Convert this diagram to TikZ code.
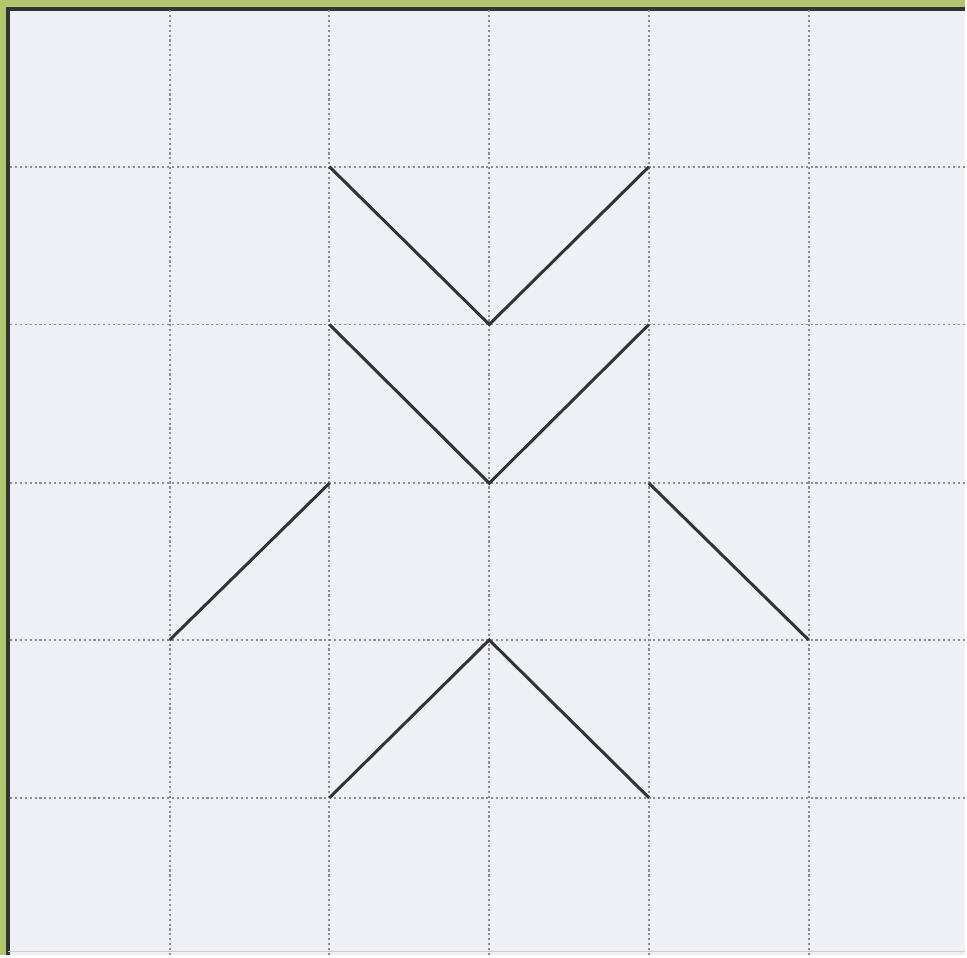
\documentclass[tikz,border=0pt]{standalone}
\usepackage{tikz}
\usetikzlibrary{positioning}
\definecolor{framegreen}{RGB}{178,198,112}
\definecolor{panelfill}{RGB}{238,240,246}
\definecolor{gridgray}{RGB}{140,140,145}
\definecolor{linedark}{RGB}{50,50,55}

\begin{document}
\begin{tikzpicture}[
  x=0.02cm, y=-0.02cm,
  panel/.style={fill=panelfill, draw=none},
  gridline/.style={draw=gridgray, line width=1.1pt, dash pattern=on 1.2pt off 1.6pt},
  figline/.style={draw=linedark, line width=1.7pt, line join=miter}
]

% Frame and panel
\fill[framegreen] (0,0) rectangle (967,957);
\fill[panel] (8,9) rectangle (967,957);
\draw[linedark, line width=1.8pt] (8,957) -- (8,9) -- (967,9);
\draw[gray!40, line width=0.8pt] (8,953) -- (967,953);
\useasboundingbox (0,0) rectangle (967,957);

% Grid
\foreach \gx in {170,330,490,650,810}
  \draw[gridline] (\gx,10) -- (\gx,957);
\foreach \gy in {167,325,484,641,799}
  \draw[gridline] (10,\gy) -- (967,\gy);

% Grid points
\coordinate (a1) at (330,167);
\coordinate (a2) at (490,325);
\coordinate (a3) at (650,167);
\coordinate (b1) at (330,325);
\coordinate (b2) at (490,484);
\coordinate (b3) at (650,325);
\coordinate (c1) at (330,484);
\coordinate (c2) at (170,641);
\coordinate (d1) at (650,484);
\coordinate (d2) at (810,641);
\coordinate (e1) at (330,799);
\coordinate (e2) at (490,641);
\coordinate (e3) at (650,799);

% Figure
\draw[figline] (a1) -- (a2) -- (a3);
\draw[figline] (b1) -- (b2) -- (b3);
\draw[figline] (c1) -- (c2);
\draw[figline] (d1) -- (d2);
\draw[figline] (e1) -- (e2) -- (e3);
\end{tikzpicture}
\end{document}
